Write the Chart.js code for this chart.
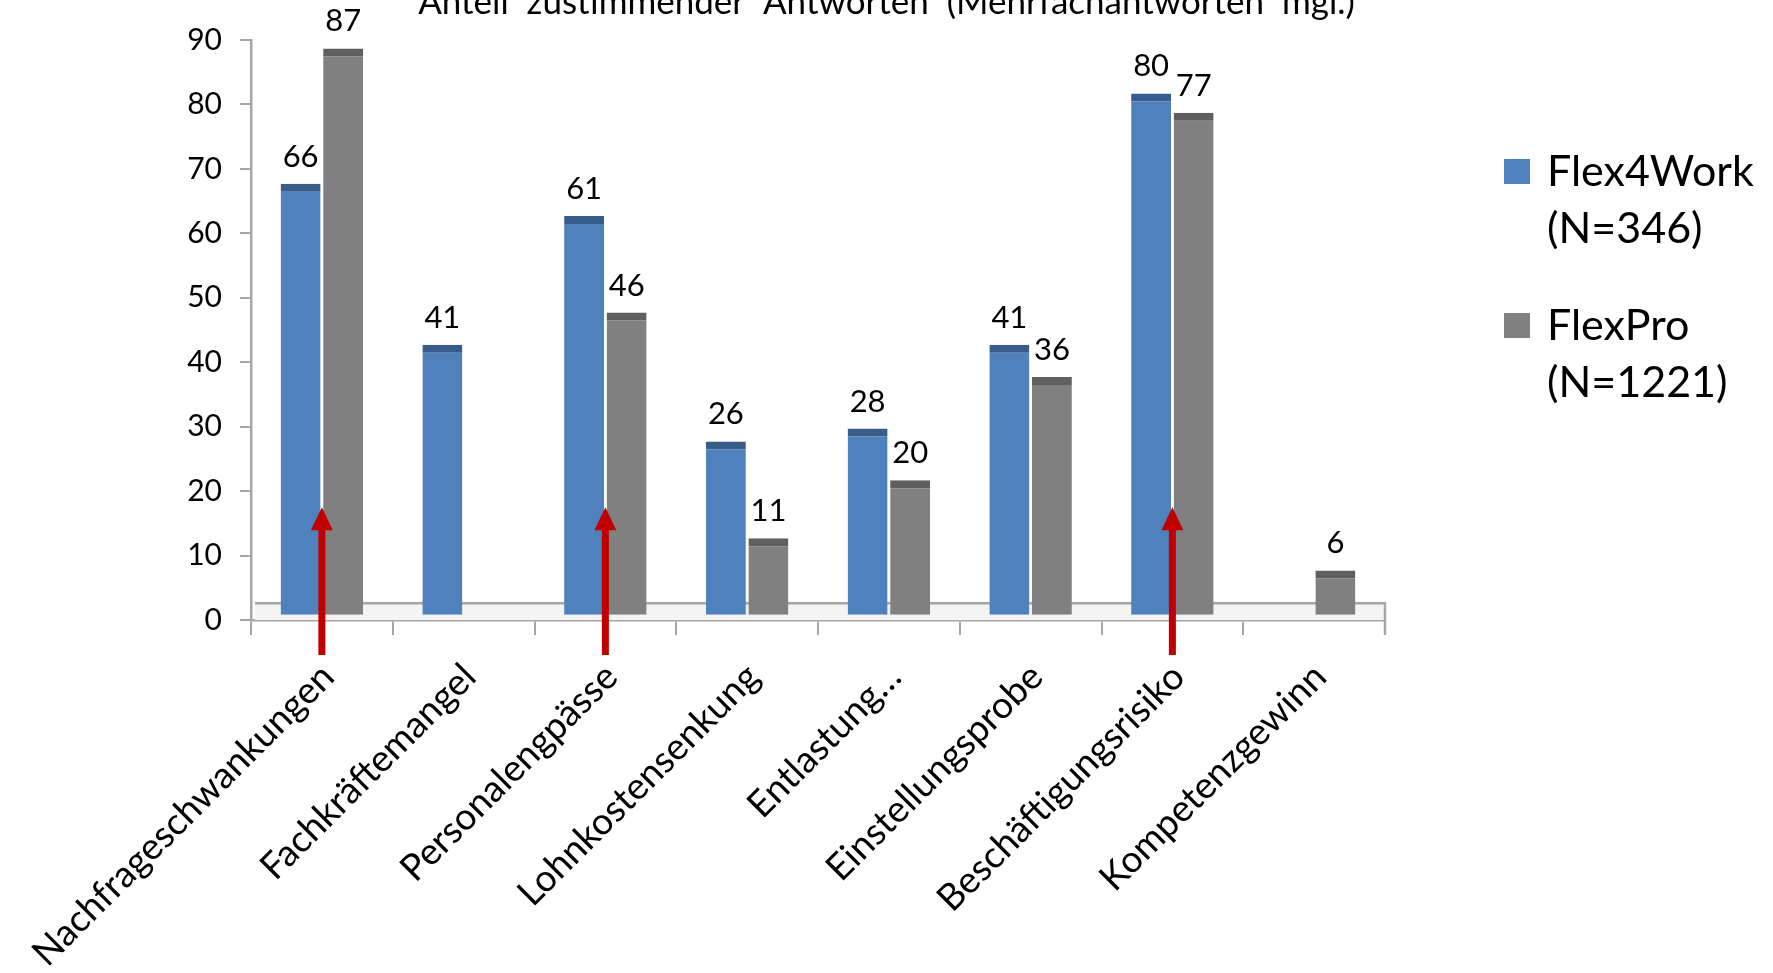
<!DOCTYPE html>
<html>
<head>
<meta charset="utf-8">
<script src="https://cdn.jsdelivr.net/npm/chart.js@4"></script>
<style>
  body { margin: 0; background: #fff; }
  #chart { display: block; }
</style>
</head>
<body>
<canvas id="chart" width="1773" height="973"></canvas>
<script>
// Categories and values
const categories = [
  "Nachfrageschwankungen",
  "Fachkräftemangel",
  "Personalengpässe",
  "Lohnkostensenkung",
  "Entlastung…",
  "Einstellungsprobe",
  "Beschäftigungsrisiko",
  "Kompetenzgewinn",
];
const flex4Work = [66, 41, 61, 26, 28, 41, 80, null];
const flexPro = [87, null, 46, 11, 20, 36, 77, 6];
const legendLabels = [["Flex4Work", "(N=346)"], ["FlexPro", "(N=1221)"]];
const yTicks = [0, 10, 20, 30, 40, 50, 60, 70, 80, 90];
const arrowCategories = [0, 2, 6];
const titleText = "Anteil  zustimmender  Antworten  (Mehrfachantworten  mgl.)";

// 3D look: bars start on the floor and stick up a bit above the value
const FLOOR = 0.8;
const DEPTH = 1.7;
const FONT = "Lato, 'Open Sans', sans-serif";

function toBars(values) {
  return values.map((v) => (v == null ? null : [FLOOR, v + DEPTH]));
}

// Title, cut at the top edge
const titlePlugin = {
  id: "titleText",
  afterDraw(chart) {
    const ctx = chart.ctx;
    ctx.save();
    ctx.font = "35px " + FONT;
    ctx.fillStyle = "#000";
    ctx.textAlign = "center";
    ctx.textBaseline = "alphabetic";
    ctx.fillText(titleText, chart.width / 2, 14);
    ctx.restore();
  },
};

// Floor of the 3D plot area
const floorPlugin = {
  id: "floor",
  beforeDatasetsDraw(chart) {
    const { ctx, chartArea, scales } = chart;
    const yTop = scales.y.getPixelForValue(2.6);
    ctx.save();
    ctx.fillStyle = "#f4f4f4";
    ctx.fillRect(chartArea.left + 4, yTop, chartArea.right - chartArea.left - 4, chartArea.bottom - yTop);
    ctx.strokeStyle = "#a6a6a6";
    ctx.lineWidth = 2.5;
    ctx.beginPath();
    ctx.moveTo(chartArea.left + 4, yTop);
    ctx.lineTo(chartArea.right, yTop);
    ctx.lineTo(chartArea.right, chartArea.bottom + 15);
    ctx.stroke();
    ctx.restore();
  },
};

// Value labels above the bars
const valueLabelPlugin = {
  id: "valueLabels",
  afterDatasetsDraw(chart) {
    const ctx = chart.ctx;
    const series = [flex4Work, flexPro];
    ctx.save();
    ctx.font = "31px " + FONT;
    ctx.fillStyle = "#000";
    ctx.textAlign = "center";
    ctx.textBaseline = "alphabetic";
    chart.data.datasets.forEach((ds, i) => {
      chart.getDatasetMeta(i).data.forEach((bar, j) => {
        if (series[i][j] == null) return;
        ctx.fillText(String(series[i][j]), bar.x, bar.y - 17);
      });
    });
    ctx.restore();
  },
};

// Red arrows pointing up into some bars
const arrowPlugin = {
  id: "arrows",
  afterDatasetsDraw(chart) {
    const { ctx, chartArea, scales } = chart;
    const tipY = scales.y.getPixelForValue(17.5);
    const tailY = chartArea.bottom + 35;
    ctx.save();
    ctx.fillStyle = "#c00000";
    arrowCategories.forEach((idx) => {
      const x = scales.x.getPixelForValue(idx);
      ctx.fillRect(x - 3.5, tipY + 18, 7, tailY - tipY - 18);
      ctx.beginPath();
      ctx.moveTo(x, tipY);
      ctx.lineTo(x - 11, tipY + 23);
      ctx.lineTo(x + 11, tipY + 23);
      ctx.closePath();
      ctx.fill();
    });
    ctx.restore();
  },
};

// Legend on the right, two lines per entry
const legendPlugin = {
  id: "sideLegend",
  afterDraw(chart) {
    const ctx = chart.ctx;
    const colors = chart.data.datasets.map((d) => d.legendColor);
    const tops = [159, 313];
    ctx.save();
    ctx.font = "43px " + FONT;
    ctx.fillStyle = "#000";
    ctx.textBaseline = "middle";
    legendLabels.forEach((lines, i) => {
      ctx.fillStyle = colors[i];
      ctx.fillRect(1504, tops[i], 26, 25);
      ctx.fillStyle = "#000";
      lines.forEach((line, k) => {
        ctx.fillText(line, 1547, tops[i] + 13 + k * 57);
      });
    });
    ctx.restore();
  },
};

const ctx = document.getElementById("chart");

window.barChart = new Chart(ctx, {
  type: "bar",
  data: {
    labels: categories,
    datasets: [
      {
        label: "Flex4Work (N=346)",
        data: toBars(flex4Work),
        backgroundColor: "#4f81bd",
        borderColor: "#385d8a",
        legendColor: "#4f81bd",
        borderWidth: { top: 8, left: 0, right: 0, bottom: 0 },
        borderSkipped: false,
        barPercentage: 0.94,
        categoryPercentage: 0.6,
      },
      {
        label: "FlexPro (N=1221)",
        data: toBars(flexPro),
        backgroundColor: "#808080",
        borderColor: "#5f5f5f",
        legendColor: "#808080",
        borderWidth: { top: 8, left: 0, right: 0, bottom: 0 },
        borderSkipped: false,
        barPercentage: 0.94,
        categoryPercentage: 0.6,
      },
    ],
  },
  options: {
    responsive: false,
    animation: false,
    devicePixelRatio: 1,
    layout: {
      padding: { top: 40, right: 388, left: 0, bottom: 0 },
    },
    plugins: {
      legend: { display: false },
      tooltip: { enabled: false },
    },
    scales: {
      x: {
        grid: {
          offset: true,
          drawOnChartArea: false,
          tickLength: 15,
          color: "#a6a6a6",
          lineWidth: 2,
        },
        border: { color: "#a6a6a6", width: 2.5 },
        ticks: {
          maxRotation: 45,
          minRotation: 45,
          autoSkip: false,
          padding: 20,
          labelOffset: 6,
          color: "#000",
          font: { family: FONT, size: 37 },
        },
        afterFit(scale) {
          scale.height = 353;
          scale.paddingLeft = 0;
          scale.paddingRight = 0;
        },
      },
      y: {
        min: 0,
        max: 90,
        afterBuildTicks(scale) {
          scale.ticks = yTicks.map((v) => ({ value: v }));
        },
        grid: {
          drawOnChartArea: false,
          tickLength: 11,
          color: "#a6a6a6",
          lineWidth: 2,
        },
        border: { color: "#a6a6a6", width: 2.5 },
        ticks: {
          padding: 18,
          color: "#000",
          font: { family: FONT, size: 30 },
        },
        afterFit(scale) {
          scale.width = 251;
        },
      },
    },
  },
  plugins: [floorPlugin, valueLabelPlugin, arrowPlugin, legendPlugin, titlePlugin],
});
</script>
</body>
</html>
